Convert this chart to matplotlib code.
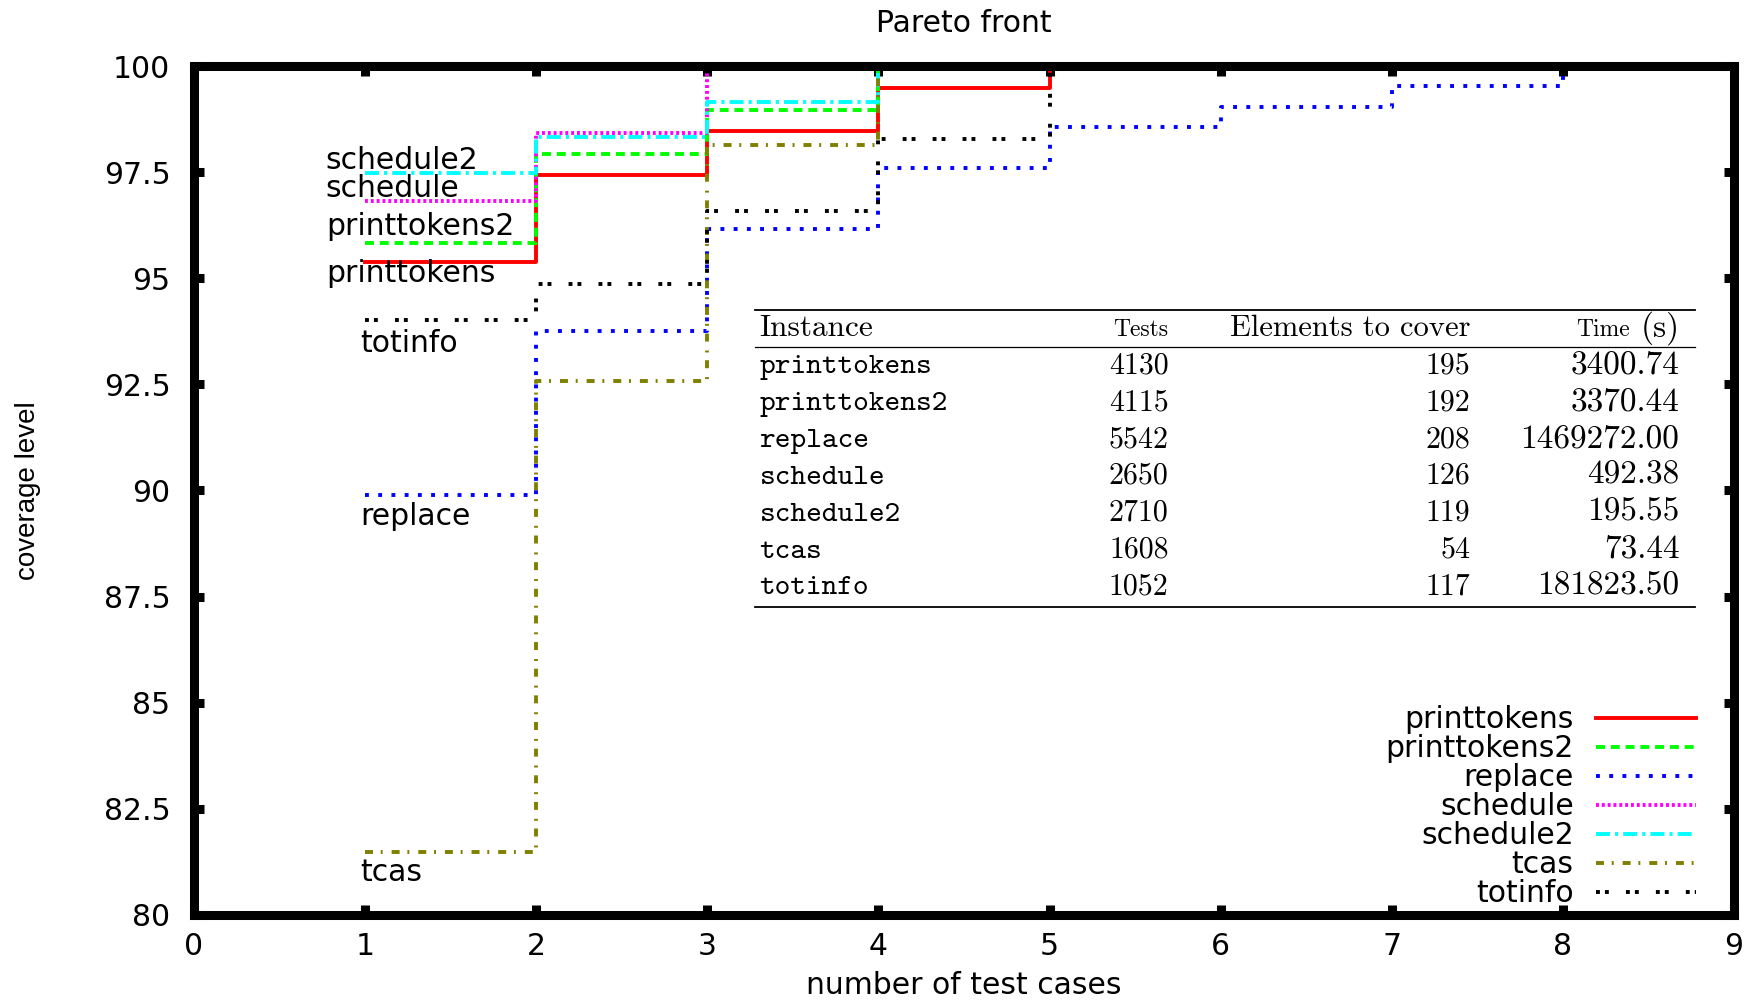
import matplotlib
matplotlib.use("Agg")
import matplotlib.pyplot as plt

# coverage level (%) reached by the pareto front, first point at 1 test case
printtokens = [95.38, 97.44, 98.46, 99.49, 100.0]
printtokens2 = [95.83, 97.92, 98.96, 100.0]
replace = [89.90, 93.75, 96.15, 97.60, 98.56, 99.04, 99.52, 100.0]
schedule = [96.83, 98.41, 100.0]
schedule2 = [97.48, 98.32, 99.16, 100.0]
tcas = [81.48, 92.59, 98.15, 100.0]
totinfo = [94.02, 94.87, 96.58, 98.29, 100.0]

series_names = ["printtokens", "printtokens2", "replace", "schedule",
                "schedule2", "tcas", "totinfo"]
series_values = [printtokens, printtokens2, replace, schedule,
                 schedule2, tcas, totinfo]

# instance table
instances = ["printtokens", "printtokens2", "replace", "schedule",
             "schedule2", "tcas", "totinfo"]
tests = [4130, 4115, 5542, 2650, 2710, 1608, 1052]
elements = [195, 192, 208, 126, 119, 54, 117]
times = [3400.74, 3370.44, 1469272.00, 492.38, 195.55, 73.44, 181823.50]

x_ticks = [0, 1, 2, 3, 4, 5, 6, 7, 8, 9]
y_ticks = [80, 82.5, 85, 87.5, 90, 92.5, 95, 97.5, 100]
y_tick_labels = ["80", "82.5", "85", "87.5", "90", "92.5", "95", "97.5", "100"]

# gnuplot-like line styles (dash lengths in units of line width)
styles = {
    "printtokens": dict(color="#ff0000", linestyle="-"),
    "printtokens2": dict(color="#00ff00", linestyle=(0, (2.3, 1.5))),
    "replace": dict(color="#0000ff", linestyle=(0, (1.0, 2.4))),
    "schedule": dict(color="#ff00ff", linestyle=(0, (0.75, 0.75))),
    "schedule2": dict(color="#00ffff", linestyle=(0, (3.6, 1.3, 0.8, 1.3))),
    "tcas": dict(color="#808000", linestyle=(0, (2.05, 2.0, 0.5, 2.3))),
    "totinfo": dict(color="#000000", linestyle=(0, (1.0, 1.3, 1.0, 4.4))),
}

# where the inline curve names sit (x, baseline y)
inline_labels = {
    "schedule2": (0.77, 97.58),
    "schedule": (0.77, 96.92),
    "printtokens2": (0.77, 96.03),
    "printtokens": (0.77, 94.92),
    "totinfo": (0.972, 93.26),
    "replace": (0.972, 89.18),
    "tcas": (0.972, 80.79),
}

FS = 21.5

fig = plt.figure(figsize=(17.52, 10.01), dpi=100)
ax = fig.add_axes([194 / 1752, 86 / 1001, 1540 / 1752, 849 / 1001])

for name, vals in zip(series_names, series_values):
    xs = list(range(1, len(vals) + 1))
    ax.step(xs, vals, where="post", lw=2.8, label=name,
            dash_capstyle="butt", **styles[name])

for name, (lx, ly) in inline_labels.items():
    ax.text(lx, ly, name, fontsize=FS, ha="left", va="baseline")

ax.set_xlim(0, 9)
ax.set_ylim(80, 100)
ax.set_xticks(x_ticks)
ax.set_yticks(y_ticks)
ax.set_yticklabels(y_tick_labels)
ax.tick_params(direction="in", length=7, width=6.5, top=True, right=True,
               labelsize=FS)
ax.tick_params(axis="y", pad=17)
ax.tick_params(axis="x", pad=12)
for sp in ax.spines.values():
    sp.set_linewidth(6.5)
    sp.set_zorder(5)

ax.text(0.5, 1.05, "Pareto front", fontsize=FS, ha="center", va="center",
        transform=ax.transAxes)
ax.set_xlabel("number of test cases", fontsize=FS)
ax.xaxis.set_label_coords(0.5, -0.0825)
ax.xaxis.label.set_va("center")
ax.set_ylabel("coverage level", fontsize=20, family="Liberation Sans")
ax.yaxis.set_label_coords(-0.108, 0.5)
ax.yaxis.label.set_va("center")

leg = ax.legend(loc="lower right", bbox_to_anchor=(0.975, 0.008),
                frameon=False, markerfirst=False, fontsize=FS,
                handlelength=3.33, handletextpad=0.75, labelspacing=0.0,
                borderaxespad=0, borderpad=0)

# booktabs-style table drawn in data coordinates
tab_left, tab_right = 3.279, 8.772
col_tests, col_elems, col_time = 5.696, 7.459, 8.681
ax.plot([tab_left, tab_right], [94.26, 94.26], color="black", lw=1.3)
ax.plot([tab_left, tab_right], [93.39, 93.39], color="black", lw=0.9)
ax.plot([tab_left, tab_right], [87.26, 87.26], color="black", lw=1.3)

head_y = 93.63
ax.text(3.305, head_y, "Instance", family="cmr10", fontsize=22.5, va="baseline")
ax.text(col_tests, head_y, "Tests", family="cmr10", fontsize=17,
        ha="right", va="baseline")
ax.text(col_elems, head_y, "Elements to cover", family="cmr10", fontsize=22,
        ha="right", va="baseline")
ax.text(8.39, head_y, "Time", family="cmr10", fontsize=17,
        ha="right", va="baseline")
ax.text(col_time, head_y, "(s)", family="cmr10", fontsize=24,
        ha="right", va="baseline")

row_y0, row_step = 92.76, 0.868
for i, (inst, t, e, tm) in enumerate(zip(instances, tests, elements, times)):
    ry = row_y0 - i * row_step
    ax.text(3.305, ry, inst, family="cmtt10", fontsize=21.5, va="baseline")
    ax.text(col_tests, ry, str(t), family="cmr10", fontsize=21.5,
            ha="right", va="baseline")
    ax.text(col_elems, ry, str(e), family="cmr10", fontsize=21.5,
            ha="right", va="baseline")
    ax.text(col_time, ry, f"{tm:.2f}", family="cmr10", fontsize=24,
            ha="right", va="baseline")

fig.savefig("out.png", dpi=100)
